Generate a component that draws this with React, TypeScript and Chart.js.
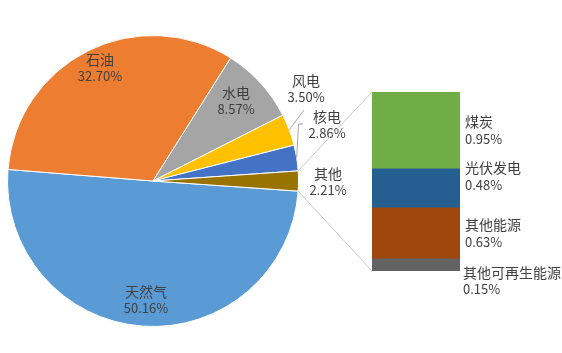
import React, { useEffect, useRef } from "react";
import { Chart, registerables } from "chart.js";
Chart.register(...registerables);

const pieLabels = ["天然气", "石油", "水电", "风电", "核电", "其他"];
const pieValues = [50.16, 32.7, 8.57, 3.5, 2.86, 2.21];
const pieColors = ["#5B9BD5", "#ED7D31", "#A5A5A5", "#FFC000", "#4472C4", "#997300"];

const barLabels = ["其他可再生能源", "其他能源", "光伏发电", "煤炭"];
const barValues = [0.15, 0.63, 0.48, 0.95];
const barColors = ["#636363", "#9E480E", "#255E91", "#70AD47"];

// label placement (offsets from the pie centre), layout only
const pieLabelOffsets: [number, number][] = [
  [-7, 119],
  [-53, -113],
  [83, -80],
  [153, -92],
  [174, -56],
  [175, 1],
];
const barLabelShift = [16, 0, -12, 0];
const barLabelDx = [-2, 0, 0, 0];

const W = 562;
const H = 353;
const TEXT = "#404040";
const CJK = '14px "Noto Sans CJK SC", "Noto Sans", sans-serif';
const NUM = '13px "Noto Sans CJK SC", "Noto Sans", sans-serif';

function drawPair(ctx: CanvasRenderingContext2D, name: string, pct: string, x: number, y: number, align: CanvasTextAlign) {
  ctx.save();
  ctx.fillStyle = TEXT;
  ctx.textAlign = align;
  ctx.textBaseline = "middle";
  ctx.font = CJK;
  ctx.fillText(name, x, y - 8.5);
  ctx.font = NUM;
  ctx.fillText(pct, x, y + 8.5);
  ctx.restore();
}

export default function App() {
  const pieRef = useRef<HTMLCanvasElement | null>(null);
  const barRef = useRef<HTMLCanvasElement | null>(null);

  useEffect(() => {
    const pieTotal = pieValues.reduce((a, b) => a + b, 0);
    const lastIdx = pieValues.length - 1;
    const rotation = 90 + ((pieValues[lastIdx] / 2) / pieTotal) * 360;

    const pieLabelPlugin = {
      id: "pieLabels",
      afterDraw(chart: any) {
        const ctx: CanvasRenderingContext2D = chart.ctx;
        const meta = chart.getDatasetMeta(0);
        meta.data.forEach((arc: any, i: number) => {
          const p = arc.getProps(["x", "y", "startAngle", "endAngle", "outerRadius"], true);
          const [dx, dy] = pieLabelOffsets[i];
          drawPair(ctx, pieLabels[i], pieValues[i].toFixed(2) + "%", p.x + dx, p.y + dy, "center");
        });
        // leader lines for 风电 and 核电
        ctx.save();
        ctx.strokeStyle = "#A6A6A6";
        ctx.lineWidth = 1;
        const a3 = meta.data[3].getProps(["x", "y", "startAngle", "endAngle", "outerRadius"], true);
        const m3 = (a3.startAngle + a3.endAngle) / 2;
        ctx.beginPath();
        ctx.moveTo(a3.x + a3.outerRadius * Math.cos(m3), a3.y + a3.outerRadius * Math.sin(m3));
        ctx.lineTo(a3.x + 151, a3.y - 71);
        ctx.stroke();
        const a4 = meta.data[4].getProps(["x", "y", "startAngle", "endAngle", "outerRadius"], true);
        const m4 = (a4.startAngle + a4.endAngle) / 2;
        ctx.beginPath();
        ctx.moveTo(a4.x + a4.outerRadius * Math.cos(m4), a4.y + a4.outerRadius * Math.sin(m4));
        ctx.lineTo(a4.x + 145.5, a4.y - 57);
        ctx.lineTo(a4.x + 150, a4.y - 57);
        ctx.stroke();
        ctx.restore();
      },
    };

    const pieChart = new Chart(pieRef.current as HTMLCanvasElement, {
      type: "pie",
      data: {
        labels: pieLabels,
        datasets: [
          {
            data: pieValues,
            backgroundColor: pieColors,
            borderColor: "#ffffff",
            borderWidth: 1,
          },
        ],
      },
      options: {
        responsive: false,
        animation: false,
        rotation,
        layout: { padding: { left: 7, right: 263, top: 35, bottom: 26 } },
        plugins: { legend: { display: false }, tooltip: { enabled: false } },
      },
      plugins: [pieLabelPlugin],
    } as any);

    const barTotal = barValues.reduce((a, b) => a + b, 0);

    const barPlugin = {
      id: "barExtras",
      afterDraw(chart: any) {
        const ctx: CanvasRenderingContext2D = chart.ctx;
        const area = chart.chartArea;
        // connector lines from the 其他 slice
        const arc = pieChart.getDatasetMeta(0).data[lastIdx] as any;
        const p = arc.getProps(["x", "y", "startAngle", "endAngle", "outerRadius"], true);
        ctx.save();
        ctx.strokeStyle = "#C8C8C8";
        ctx.lineWidth = 1;
        ctx.beginPath();
        ctx.moveTo(p.x + p.outerRadius * Math.cos(p.startAngle), p.y + p.outerRadius * Math.sin(p.startAngle));
        ctx.lineTo(area.left, area.top);
        ctx.moveTo(p.x + p.outerRadius * Math.cos(p.endAngle), p.y + p.outerRadius * Math.sin(p.endAngle));
        ctx.lineTo(area.left, area.bottom);
        ctx.stroke();
        ctx.restore();
        // labels
        barValues.forEach((v, i) => {
          const el = chart.getDatasetMeta(i).data[0];
          const b = el.getProps(["x", "y", "base", "width"], true);
          const cy = (b.y + b.base) / 2 + barLabelShift[i];
          const lx = b.x + b.width / 2 + 5 + barLabelDx[i];
          drawPair(ctx, barLabels[i], v.toFixed(2) + "%", lx, cy, "left");
        });
      },
    };

    const barChart = new Chart(barRef.current as HTMLCanvasElement, {
      type: "bar",
      data: {
        labels: [""],
        datasets: barValues.map((v, i) => ({
          label: barLabels[i],
          data: [v],
          backgroundColor: barColors[i],
          borderWidth: 0,
          barPercentage: 1,
          categoryPercentage: 1,
        })),
      },
      options: {
        responsive: false,
        animation: false,
        layout: { padding: { left: 372, right: 102, top: 92, bottom: 82 } },
        scales: {
          x: { display: false, stacked: true },
          y: { display: false, stacked: true, min: 0, max: barTotal },
        },
        plugins: { legend: { display: false }, tooltip: { enabled: false } },
      },
      plugins: [barPlugin],
    } as any);

    return () => {
      barChart.destroy();
      pieChart.destroy();
    };
  }, []);

  return (
    <div style={{ position: "fixed", left: 0, top: 0, width: W, height: H, background: "#ffffff" }}>
      <canvas ref={pieRef} width={W} height={H} style={{ position: "absolute", left: 0, top: 0 }} />
      <canvas ref={barRef} width={W} height={H} style={{ position: "absolute", left: 0, top: 0 }} />
    </div>
  );
}
